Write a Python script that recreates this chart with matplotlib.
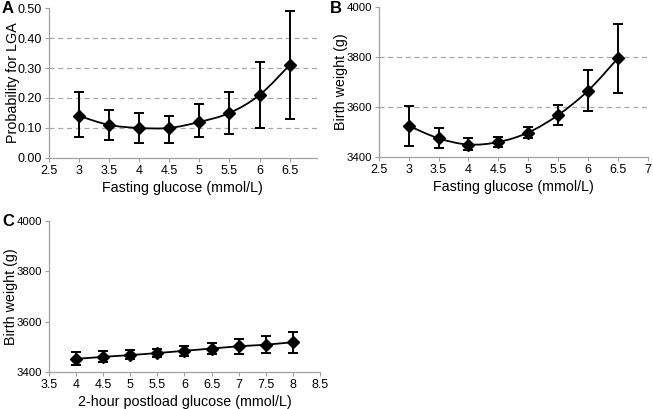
import numpy as np
import matplotlib
matplotlib.use('Agg')
from matplotlib import pyplot as plt
from matplotlib.path import Path
from matplotlib.patches import PathPatch

plt.rcParams['font.family'] = ['Liberation Sans', 'DejaVu Sans']

# panel A: probability for LGA vs fasting glucose
a_x = [3, 3.5, 4, 4.5, 5, 5.5, 6, 6.5]
a_y = [0.14, 0.11, 0.10, 0.10, 0.12, 0.15, 0.21, 0.31]
a_lo = [0.07, 0.06, 0.05, 0.05, 0.07, 0.08, 0.10, 0.13]
a_hi = [0.22, 0.16, 0.15, 0.14, 0.18, 0.22, 0.32, 0.49]

# panel B: birth weight vs fasting glucose
b_x = [3, 3.5, 4, 4.5, 5, 5.5, 6, 6.5]
b_y = [3525, 3475, 3450, 3460, 3498, 3568, 3665, 3795]
b_lo = [3445, 3435, 3428, 3440, 3478, 3527, 3585, 3655]
b_hi = [3605, 3515, 3475, 3480, 3520, 3610, 3748, 3930]

# panel C: birth weight vs 2-hour postload glucose
c_x = [4, 4.5, 5, 5.5, 6, 6.5, 7, 7.5, 8]
c_y = [3452, 3460, 3467, 3475, 3484, 3493, 3502, 3508, 3518]
c_lo = [3427, 3440, 3450, 3460, 3465, 3470, 3473, 3475, 3477]
c_hi = [3478, 3482, 3486, 3492, 3505, 3515, 3530, 3543, 3558]

AXCOL = '#a0a0a0'


def smooth_path(x, y):
    # excel-like smoothed line: cubic bezier through the points
    x = np.asarray(x, float)
    y = np.asarray(y, float)
    verts = [(x[0], y[0])]
    codes = [Path.MOVETO]
    n = len(x)
    for i in range(n - 1):
        x0, y0 = (x[i - 1], y[i - 1]) if i > 0 else (x[i], y[i])
        x3, y3 = (x[i + 2], y[i + 2]) if i + 2 < n else (x[i + 1], y[i + 1])
        c1 = (x[i] + (x[i + 1] - x0) / 6, y[i] + (y[i + 1] - y0) / 6)
        c2 = (x[i + 1] - (x3 - x[i]) / 6, y[i + 1] - (y3 - y[i]) / 6)
        verts += [c1, c2, (x[i + 1], y[i + 1])]
        codes += [Path.CURVE4] * 3
    return Path(verts, codes)


def panel(ax, x, y, lo, hi, smooth=True, ylabsize=9):
    y = np.array(y)
    yerr = [y - np.array(lo), np.array(hi) - y]
    if smooth:
        ax.add_patch(PathPatch(smooth_path(x, y), fill=False, lw=1.3, color='black', zorder=3))
    else:
        ax.plot(x, y, color='black', lw=1.3, zorder=3)
    ax.errorbar(x, y, yerr=yerr, fmt='D', color='black', ms=6.5, ecolor='black',
                elinewidth=1.4, capsize=3.5, capthick=1.4, zorder=4)
    for s in ['top', 'right']:
        ax.spines[s].set_visible(False)
    for s in ['left', 'bottom']:
        ax.spines[s].set_color(AXCOL)
        ax.spines[s].set_linewidth(0.9)
    ax.tick_params(axis='both', colors=AXCOL, labelcolor='black', labelsize=9,
                   length=3, width=0.8, pad=2)
    ax.tick_params(axis='y', labelsize=ylabsize)


fig = plt.figure(figsize=(6.53, 4.09), dpi=100)

axA = fig.add_axes([0.075, 0.614, 0.410, 0.366])
panel(axA, a_x, a_y, a_lo, a_hi)
axA.set_xlim(2.5, 6.95)
axA.set_ylim(0, 0.5)
axA.set_xticks([2.5, 3, 3.5, 4, 4.5, 5, 5.5, 6, 6.5])
axA.set_xticklabels(['2.5', '3', '3.5', '4', '4.5', '5', '5.5', '6', '6.5'])
axA.set_yticks([0, 0.1, 0.2, 0.3, 0.4, 0.5])
axA.set_yticklabels(['%.2f' % v for v in [0, 0.1, 0.2, 0.3, 0.4, 0.5]])
for g in [0.1, 0.2, 0.3, 0.4]:
    axA.axhline(g, color='#a8a8a8', lw=0.9, ls=(0, (4, 3)), zorder=1)
axA.set_xlabel('Fasting glucose (mmol/L)', fontsize=10.3, labelpad=3)
axA.set_ylabel('Probability for LGA', fontsize=10.3)
axA.yaxis.set_label_coords(-0.109, 0.5)
fig.text(0.003, 0.967, 'A', fontsize=12, fontweight='bold')

axB = fig.add_axes([0.580, 0.616, 0.412, 0.367])
panel(axB, b_x, b_y, b_lo, b_hi, ylabsize=8.2)
axB.set_xlim(2.5, 7)
axB.set_ylim(3400, 4000)
axB.set_xticks([2.5, 3, 3.5, 4, 4.5, 5, 5.5, 6, 6.5, 7])
axB.set_xticklabels(['2.5', '3', '3.5', '4', '4.5', '5', '5.5', '6', '6.5', '7'])
axB.set_yticks([3400, 3600, 3800, 4000])
for g in [3600, 3800]:
    axB.axhline(g, color='#a8a8a8', lw=0.9, ls=(0, (4, 3)), zorder=1)
axB.set_xlabel('Fasting glucose (mmol/L)', fontsize=10.3, labelpad=3)
axB.set_ylabel('Birth weight (g)', fontsize=10.3)
axB.yaxis.set_label_coords(-0.116, 0.5)
fig.text(0.505, 0.967, 'B', fontsize=12, fontweight='bold')

axC = fig.add_axes([0.075, 0.0905, 0.415, 0.370])
panel(axC, c_x, c_y, c_lo, c_hi, smooth=False, ylabsize=8.2)
axC.set_xlim(3.5, 8.5)
axC.set_ylim(3400, 4000)
axC.set_xticks([3.5, 4, 4.5, 5, 5.5, 6, 6.5, 7, 7.5, 8, 8.5])
axC.set_xticklabels(['3.5', '4', '4.5', '5', '5.5', '6', '6.5', '7', '7.5', '8', '8.5'])
axC.set_yticks([3400, 3600, 3800, 4000])
axC.set_xlabel('2-hour postload glucose (mmol/L)', fontsize=10.3, labelpad=3)
axC.set_ylabel('Birth weight (g)', fontsize=10.3)
axC.yaxis.set_label_coords(-0.114, 0.5)
fig.text(0.003, 0.447, 'C', fontsize=12, fontweight='bold')

plt.savefig('out.png', dpi=100)
